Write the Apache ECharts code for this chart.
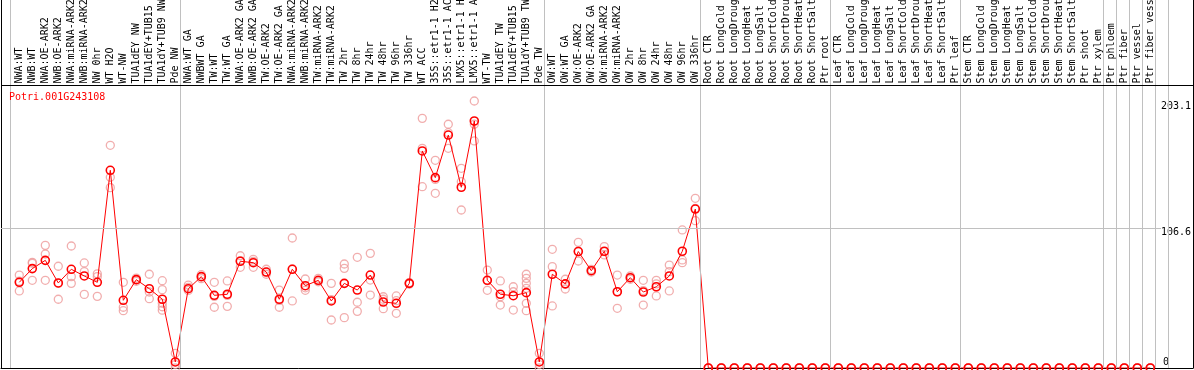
<!DOCTYPE html>
<html>
<head>
<meta charset="utf-8">
<script src="https://cdn.jsdelivr.net/npm/echarts@6/dist/echarts.min.js"></script>
<style>
html,body{margin:0;padding:0;background:#fff;}
#c{width:1194px;height:370px;}
</style>
</head>
<body>
<div id="c"></div>
<script>
const titleText = 'Potri.001G243108';

const categories = [
  'NWA:WT','NWB:WT','NWA:OE-ARK2','NWB:OE-ARK2','NWA:miRNA-ARK2','NWB:miRNA-ARK2','NW 0hr','WT H2O','WT-NW','TUA1dEY NW','TUA1dEY+TUB15 NW','TUA1dY+TUB9 NW','Pde NW',
  'NWA:WT GA','NWBWT GA','TW:WT','TW:WT GA','NWA:OE-ARK2 GA','NWB:OE-ARK2 GA','TW:OE-ARK2','TW:OE-ARK2 GA','NWA:miRNA-ARK2 GA','NWB:miRNA-ARK2 GA','TW:miRNA-ARK2','TW:miRNA-ARK2 GA','TW 2hr','TW 8hr','TW 24hr','TW 48hr','TW 96hr','TW 336hr','WT ACC','35S::etr1-1 H2O','35S::etr1-1 ACC','LMX5::etr1-1 H2O','LMX5::etr1-1 ACC','WT-TW','TUA1dEY TW','TUA1dEY+TUB15 TW','TUA1dY+TUB9 TW','Pde TW',
  'OW:WT','OW:WT GA','OW:OE-ARK2','OW:OE-ARK2 GA','OW:miRNA-ARK2','OW:miRNA-ARK2 GA','OW 2hr','OW 8hr','OW 24hr','OW 48hr','OW 96hr','OW 336hr',
  'Root CTR','Root LongCold','Root LongDrought','Root LongHeat','Root LongSalt','Root ShortCold','Root ShortDrought','Root ShortHeat','Root ShortSalt','Ptr root',
  'Leaf CTR','Leaf LongCold','Leaf LongDrought','Leaf LongHeat','Leaf LongSalt','Leaf ShortCold','Leaf ShortDrought','Leaf ShortHeat','Leaf ShortSalt','Ptr leaf',
  'Stem CTR','Stem LongCold','Stem LongDrought','Stem LongHeat','Stem LongSalt','Stem ShortCold','Stem ShortDrought','Stem ShortHeat','Stem ShortSalt','Ptr shoot',
  'Ptr xylem','Ptr phloem','Ptr fiber','Ptr vessel','Ptr fiber vessel'
];

// sizes of the groups separated by grey vertical lines
const groupSizes = [13, 28, 12, 10, 10, 11, 1, 1, 1, 1, 1];

const means = [
  65.2, 75.6, 81.9, 64.7, 75.1, 70.0, 65.2, 150.4, 51.5, 67.2, 60.3, 52.3, 4.6,
  60.3, 69.5, 55.3, 56.1, 81.2, 80.1, 73.0, 52.3, 75.1, 62.6, 66.7, 51.0, 64.4, 59.3, 70.7, 50.2, 49.2, 64.4,
  165.1, 144.8, 177.2, 137.5, 187.9, 66.7, 56.1, 55.0, 57.3, 4.6,
  71.3, 64.0, 88.6, 74.0, 88.8, 58.0, 68.7, 57.8, 61.8, 70.0, 88.8, 120.9,
  0,0,0,0,0,0,0,0,0,0,
  0,0,0,0,0,0,0,0,0,0,
  0,0,0,0,0,0,0,0,0,0,
  0,0,0,0,0
];

const replicates = [
  [70.7, 66.0, 58.6], [80.4, 79.7, 66.7], [93.3, 86.7, 66.7], [77.4, 64.4, 52.3], [92.8, 69.5, 64.4],
  [79.9, 73.3, 56.0], [71.6, 69.5, 54.5], [169.4, 145.1, 137.2], [65.2, 46.2, 43.6], [68.4, 67.2, 66.0],
  [71.3, 57.8, 52.7], [66.4, 59.6, 49.2, 46.6, 44.0], [11.2, 2.6, 0],
  [63.1, 61.4, 59.0], [71.0, 69.5, 68.0], [65.2, 54.5, 46.2], [66.2, 55.2, 46.9], [85.4, 81.6, 76.6],
  [82.7, 81.0, 76.6], [75.1, 73.0, 71.3], [59.3, 51.4, 46.2], [98.9, 75.4, 51.0], [67.7, 61.0, 59.1],
  [68.2, 66.4, 65.6], [64.4, 52.0, 36.5], [79.1, 75.8, 38.3], [84.2, 50.0, 43.1], [87.2, 66.9, 55.5],
  [54.2, 52.3, 45.1], [54.8, 51.2, 41.6], [65.0, 64.4, 63.8], [189.9, 167.1, 137.9], [158.0, 143.5, 132.9],
  [185.4, 179.0, 167.1], [151.9, 141.7, 120.2], [203.1, 185.4, 172.7], [74.5, 66.5, 59.1], [66.2, 54.2, 47.9],
  [61.8, 58.0, 44.1], [71.3, 68.2, 64.4, 60.6, 49.2, 43.6], [11.2, 2.6, 0],
  [90.3, 77.1, 47.2], [67.5, 63.8, 60.1], [95.6, 89.0, 81.4], [75.0, 74.0, 73.0], [92.3, 88.5, 86.0],
  [70.7, 58.0, 45.4], [70.0, 68.7, 67.5], [66.7, 58.9, 47.9], [66.7, 64.0, 54.8], [78.3, 73.3, 58.6],
  [105.0, 82.2, 80.1], [129.1, 121.5, 112.1],
  [0,0,0],[0,0,0],[0,0,0],[0,0,0],[0,0,0],[0,0,0],[0,0,0],[0,0,0],[0,0,0],[0,0,0],
  [0,0,0],[0,0,0],[0,0,0],[0,0,0],[0,0,0],[0,0,0],[0,0,0],[0,0,0],[0,0,0],[0,0,0],
  [0,0,0],[0,0,0],[0,0,0],[0,0,0],[0,0,0],[0,0,0],[0,0,0],[0,0,0],[0,0,0],[0,0,0],
  [0,0,0],[0,0,0],[0,0,0],[0,0,0],[0,0,0]
];

const yTickLabels = [106.6, 203.1];
const yZeroLabel = [0];

// ---- layout (pixels / scale) ----
const W = 1194, H = 370;
const gridLeft = 1, gridRight = 1, gridTop = 0, gridBottom = 2;
const firstCenterPx = 19.3, stepPx = 13;
const plotW = W - gridLeft - gridRight;
const plotH = H - gridTop - gridBottom;
const xMin = -(firstCenterPx - gridLeft) / stepPx;
const xMax = xMin + plotW / stepPx;
const pxPerUnit = 1.3146;
const yMax = plotH / pxPerUnit;
const labelBandPx = 85.5;
const headerLineValue = (plotH - labelBandPx) / pxPerUnit;
const gridLineEndX = (1161 - firstCenterPx) / stepPx;

const bounds = [-0.7];
let acc = 0;
groupSizes.forEach(s => { acc += s; bounds.push(acc - 1 + 0.36); });

const mono = 'DejaVu Sans Mono';

const chart = echarts.init(document.getElementById('c'), null, {renderer: 'canvas'});
chart.setOption({
  animation: false,
  backgroundColor: '#fff',
  title: {
    text: titleText, left: 9, top: 92, padding: 0,
    textStyle: {color: '#ff0000', fontFamily: mono, fontSize: 10, fontWeight: 'normal'}
  },
  grid: {left: gridLeft, right: gridRight, top: gridTop, bottom: gridBottom, show: false,
         containLabel: false, outerBoundsMode: 'none'},
  xAxis: [{
    type: 'value', min: xMin, max: xMax, position: 'top', offset: -labelBandPx,
    axisLine: {show: false}, axisTick: {show: false}, splitLine: {show: false},
    axisLabel: {
      customValues: categories.map((c, i) => i),
      formatter: v => categories[Math.round(v)] || '',
      rotate: 90, margin: 2, color: '#000', fontFamily: mono, fontSize: 10
    }
  }, {
    type: 'value', min: xMin, max: xMax, position: 'bottom',
    axisLine: {show: true, onZero: false, lineStyle: {color: '#000', width: 1}},
    axisTick: {show: false}, axisLabel: {show: false}, splitLine: {show: false}
  }],
  yAxis: [{
    type: 'value', min: 0, max: yMax, position: 'right',
    axisLine: {show: true, onZero: false, lineStyle: {color: '#000', width: 1}},
    axisTick: {show: false}, splitLine: {show: false},
    axisLabel: {
      customValues: yTickLabels, inside: true, margin: 2, verticalAlign: 'top',
      formatter: v => String(v),
      color: '#000', fontFamily: mono, fontSize: 10
    }
  }, {
    type: 'value', min: 0, max: yMax, position: 'right',
    axisLine: {show: false, onZero: false}, axisTick: {show: false}, splitLine: {show: false},
    axisLabel: {
      customValues: yZeroLabel, inside: true, margin: 24, verticalAlign: 'bottom',
      formatter: v => String(v),
      color: '#000', fontFamily: mono, fontSize: 10, padding: [0, 0, 1, 0]
    }
  }, {
    type: 'value', min: 0, max: yMax, position: 'left',
    axisLine: {show: true, onZero: false, lineStyle: {color: '#000', width: 1}},
    axisTick: {show: false}, axisLabel: {show: false}, splitLine: {show: false}
  }],
  series: [{
    type: 'scatter', name: 'replicates', z: 2,
    symbol: 'circle', symbolSize: 8,
    itemStyle: {color: 'rgba(0,0,0,0)', borderColor: '#ee9a9a', borderWidth: 1.3},
    data: replicates.flatMap((r, i) => r.map(v => [i, v])),
    markLine: {
      silent: true, symbol: 'none', label: {show: false},
      lineStyle: {color: '#c0c0c0', type: 'solid', width: 1},
      data: bounds.map(b => ({xAxis: b})).concat([
        [{coord: [xMin, 106.6]}, {coord: [gridLineEndX, 106.6]}],
        {yAxis: headerLineValue, lineStyle: {color: '#000', width: 1}}
      ])
    }
  }, {
    type: 'line', name: 'mean', z: 3,
    symbol: 'circle', symbolSize: 8, showSymbol: true, showAllSymbol: true,
    lineStyle: {color: '#ff0000', width: 1},
    itemStyle: {color: 'rgba(0,0,0,0)', borderColor: '#ff0000', borderWidth: 1.6},
    data: means.map((v, i) => [i, v])
  }]
});
</script>
</body>
</html>
